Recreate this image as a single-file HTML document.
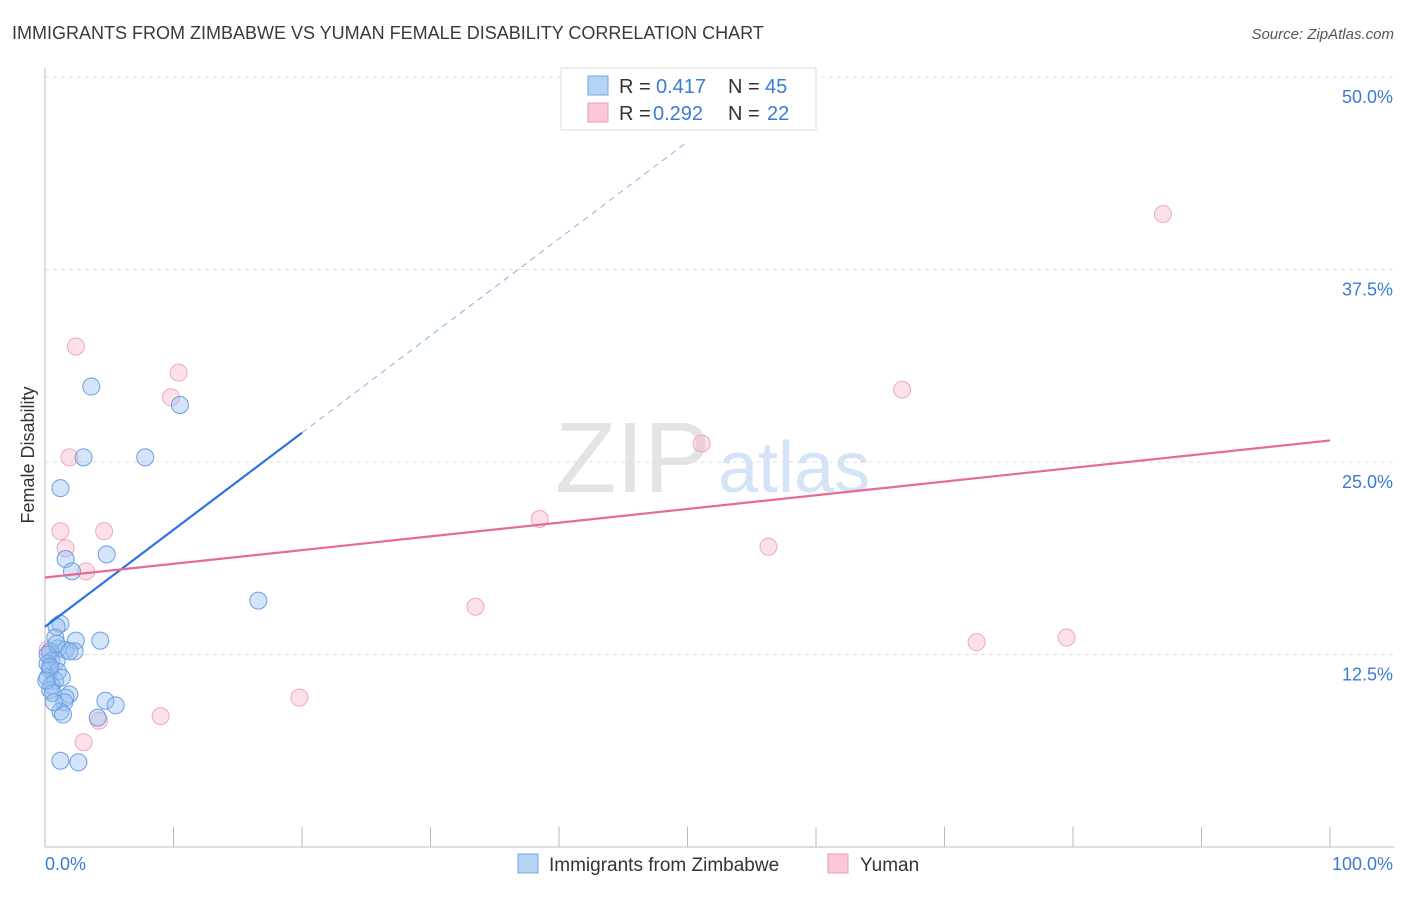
<!DOCTYPE html>
<html><head><meta charset="utf-8"><style>
body{margin:0;background:#fff;font-family:"Liberation Sans",sans-serif;}
svg text{font-family:"Liberation Sans",sans-serif;}
</style></head><body>
<svg id="c" width="1406" height="892">
<text x="12" y="39" font-size="18" fill="#3a3a3a">IMMIGRANTS FROM ZIMBABWE VS YUMAN FEMALE DISABILITY CORRELATION CHART</text>
<text x="1394" y="39" font-size="15" fill="#555" text-anchor="end" font-style="italic">Source: ZipAtlas.com</text>
<text x="555" y="492" font-size="100" fill="#e4e4e4" font-family="Liberation Serif">ZIP</text>
<text x="718" y="492" font-size="72" fill="#d4e3f5">atlas</text>
<text x="34" y="455" font-size="18" fill="#333" text-anchor="middle" transform="rotate(-90 34 455)">Female Disability</text>
<g id="grid"></g><g id="pts"></g><g id="lines"></g>
<g>
<rect x="561" y="68" width="255" height="62" fill="#fff" stroke="#ddd"/>
<rect x="588" y="76" width="20" height="19" fill="#b8d4f5" stroke="#6fa6e6"/>
<text x="619" y="93" font-size="20" fill="#333">R =</text><text x="656" y="93" font-size="20" fill="#3a7bd5">0.417</text>
<text x="728" y="93" font-size="20" fill="#333">N =</text><text x="765" y="93" font-size="20" fill="#3a7bd5">45</text>
<rect x="588" y="103" width="20" height="19" fill="#fac8d6" stroke="#ee9ab2"/>
<text x="619" y="120" font-size="20" fill="#333">R =</text><text x="653" y="120" font-size="20" fill="#3a7bd5">0.292</text>
<text x="728" y="120" font-size="20" fill="#333">N =</text><text x="767" y="120" font-size="20" fill="#3a7bd5">22</text>
</g>
<g>
<rect x="518" y="854" width="20" height="19" fill="#b8d4f5" stroke="#6fa6e6"/>
<text x="549" y="871" font-size="19" fill="#333">Immigrants from Zimbabwe</text>
<rect x="828" y="854" width="20" height="19" fill="#fac8d6" stroke="#ee9ab2"/>
<text x="860" y="871" font-size="19" fill="#333">Yuman</text>
</g>
</svg>
<script>
const blueX=[3.6,10.5,3.0,7.8,1.2,4.8,1.6,2.1,16.6,1.2,0.9,0.8,2.4,4.3,1.0,1.6,2.3,0.4,0.5,0.9,0.2,0.4,1.0,0.2,0.8,0.5,0.4,0.6,1.9,1.6,4.7,1.5,5.5,1.2,1.4,4.1,1.2,2.6,0.9,0.2,1.9,1.3,0.7,0.4,0.1];
const blueY=[29.9,28.7,25.3,25.3,23.3,19.0,18.7,17.9,16.0,14.5,14.3,13.6,13.4,13.4,12.9,12.8,12.7,12.7,12.1,12.1,11.9,11.5,11.4,11.0,10.8,10.5,10.2,10.0,9.9,9.7,9.5,9.4,9.2,8.8,8.6,8.4,5.6,5.5,13.2,12.5,12.7,11.0,9.4,11.7,10.8];
const pinkX=[2.4,10.4,9.8,1.9,1.2,4.6,1.6,3.2,38.5,51.1,87.0,66.7,56.3,33.5,72.5,79.5,19.8,9.0,4.2,3.0,0.4,0.2];
const pinkY=[32.5,30.8,29.2,25.3,20.5,20.5,19.4,17.9,21.3,26.2,41.1,29.7,19.5,15.6,13.3,13.6,9.7,8.5,8.2,6.8,12.5,12.8];
const yTicks=[12.5,25.0,37.5,50.0];
const xTicks=[0,10,20,30,40,50,60,70,80,90,100];
const blueLine=[14.3,0.63];
const pinkLine=[17.5,26.4];
const sx=v=>45+v*12.85, sy=v=>847-v*15.4;
const NS="http://www.w3.org/2000/svg";
function mk(tag,attrs,parent){const e=document.createElementNS(NS,tag);for(const k in attrs)e.setAttribute(k,attrs[k]);document.getElementById(parent).appendChild(e);return e;}
const ax=mk('line',{x1:45,y1:68,x2:45,y2:847,stroke:'#bbb'},'grid');


const bx=mk('line',{x1:45,y1:847,x2:1394,y2:847,stroke:'#bbb'},'grid');


yTicks.forEach(t=>{
 const g=mk('line',{x1:45,x2:1394,y1:sy(t),y2:sy(t),stroke:'#ddd','stroke-dasharray':'4,4'},'grid');
 
 
 const l=mk('text',{x:1393,y:sy(t)+26,'font-size':18,fill:'#3a7bd5','text-anchor':'end'},'grid');
 l.textContent=t.toFixed(1)+'%';
 
 
});
xTicks.forEach(t=>{
 const k=mk('line',{x1:sx(t),x2:sx(t),y1:827,y2:847,stroke:'#bbb'},'grid');
 
 
});
const x0=mk('text',{x:45,y:870,'font-size':18,fill:'#3a7bd5'},'grid');x0.textContent='0.0%';


const x1=mk('text',{x:1393,y:870,'font-size':18,fill:'#3a7bd5','text-anchor':'end'},'grid');x1.textContent='100.0%';


pinkX.forEach((x,i)=>{
 const c=mk('circle',{cx:sx(x),cy:sy(pinkY[i]),r:8.5,fill:'rgba(245,170,195,0.35)',stroke:'#f0a8be','stroke-width':1},'pts');
 
 
});
blueX.forEach((x,i)=>{
 const c=mk('circle',{cx:sx(x),cy:sy(blueY[i]),r:8.5,fill:'rgba(150,190,240,0.4)',stroke:'#6aa0e2','stroke-width':1},'pts');
 
 
});
const by=x=>blueLine[0]+blueLine[1]*x;
const bl=mk('line',{x1:sx(0),y1:sy(by(0)),x2:sx(20),y2:sy(by(20)),stroke:'#2d74d8','stroke-width':2.2},'lines');


const bd=mk('line',{x1:sx(20),y1:sy(by(20)),x2:sx(50),y2:sy(by(50)),stroke:'#8ab0df','stroke-width':1,'stroke-dasharray':'6,5'},'lines');


const pl=mk('line',{x1:sx(0),y1:sy(pinkLine[0]),x2:sx(100),y2:sy(pinkLine[1]),stroke:'#e66b94','stroke-width':2.2},'lines');


</script>
</body></html>
